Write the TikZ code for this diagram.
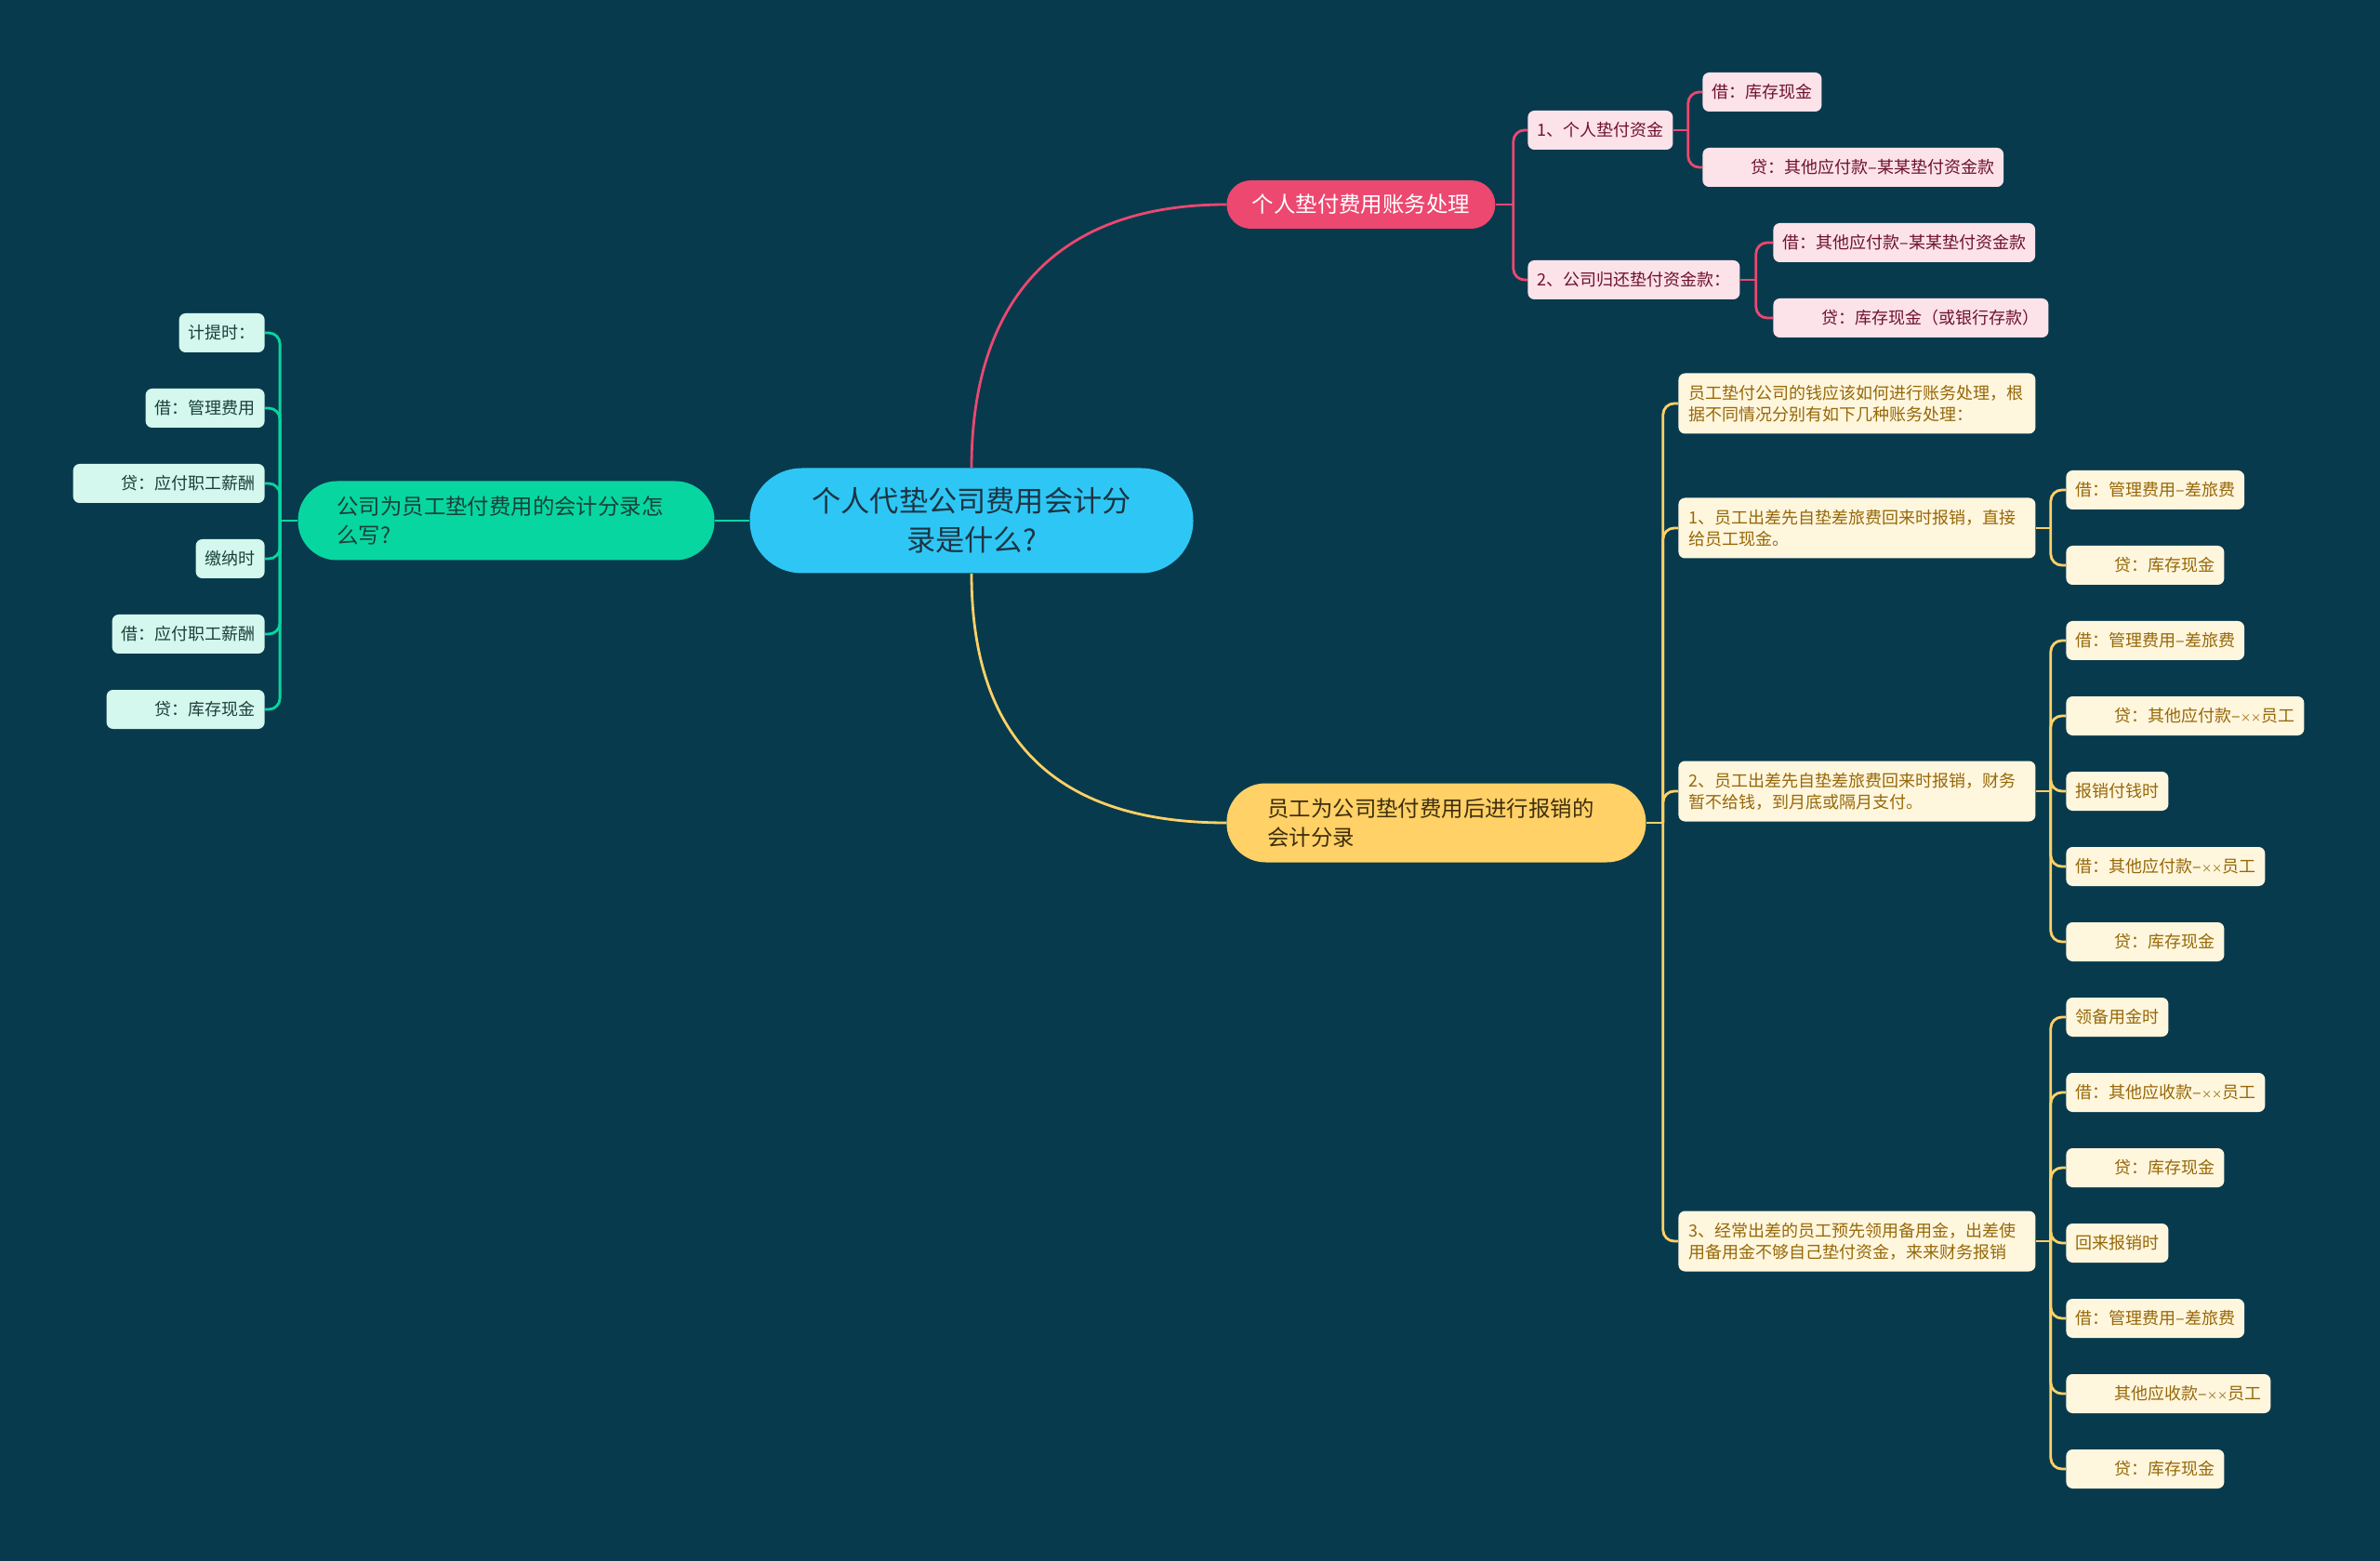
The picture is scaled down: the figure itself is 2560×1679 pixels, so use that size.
\documentclass[tikz,border=0pt]{standalone}
\usepackage{fontspec}
\setmainfont{Noto Sans CJK SC}
\usepackage{tikz}
\usetikzlibrary{calc}
\definecolor{mybg}{RGB}{8,58,77}
\definecolor{mycyan}{RGB}{46,199,245}
\definecolor{myroottext}{RGB}{28,52,66}
\definecolor{mypink}{RGB}{236,72,112}
\definecolor{mypinklight}{RGB}{252,226,233}
\definecolor{mypinktext}{RGB}{110,18,45}
\definecolor{mygreen}{RGB}{8,214,160}
\definecolor{mygreenlight}{RGB}{212,248,237}
\definecolor{mygreentext}{RGB}{25,65,58}
\definecolor{myyellow}{RGB}{255,209,102}
\definecolor{myyellowlight}{RGB}{255,246,222}
\definecolor{myyellowtext}{RGB}{150,104,8}
\definecolor{mybrown}{RGB}{62,46,14}
\newcommand{\credpad}{\hspace*{21pt}}
\newcommand{\onex}{\makebox[0.62em]{\scalebox{0.62}{×}}}
\newcommand{\twox}{\onex\onex}

\begin{document}
\begin{tikzpicture}[x=0.5pt, y=-0.5pt]
    \tikzstyle{leaf}=[rounded corners=3.5pt, minimum height=21pt, inner xsep=5pt, inner ysep=0pt, font=\fontsize{9}{11.5}\selectfont]
    \tikzstyle{pinkleaf}=[leaf, fill=mypinklight, text=mypinktext, anchor=west]
    \tikzstyle{greenleaf}=[leaf, fill=mygreenlight, text=mygreentext, anchor=east]
    \tikzstyle{yellowleaf}=[leaf, fill=myyellowlight, text=myyellowtext, anchor=west]
    \tikzstyle{yellowsub}=[yellowleaf, text width=181pt, inner xsep=5.5pt, minimum height=32.5pt, align=left]
    \tikzstyle{mainbox}=[font=\fontsize{11.7}{15.5}\selectfont]
    \tikzstyle{link}=[line width=1.4pt, rounded corners=6pt]
    \fill[mybg] (0,0) rectangle (2560,1679);
    % centre and the three branches
    \node[fill=mycyan, text=myroottext, rounded corners=28pt, minimum width=238.5pt, minimum height=56.5pt, align=center, font=\fontsize{15.6}{21}\selectfont] (root) at (1045,560) {个人代垫公司费用会计分\\录是什么?};
    \node[mainbox, fill=mypink, text=white, rounded corners=13pt, minimum width=144.5pt, minimum height=26pt, anchor=west] (pay) at (1319,220) {个人垫付费用账务处理};
    \node[mainbox, fill=mygreen, text=mygreentext, rounded corners=21pt, text width=182pt, inner xsep=21pt, minimum height=42.5pt, align=left] (corp) at (544.5,560) {公司为员工垫付费用的会计分录怎\\么写?};
    \node[mainbox, fill=myyellow, text=mybrown, rounded corners=21pt, text width=181.5pt, inner xsep=22pt, minimum height=42.5pt, align=left, anchor=west] (reimb) at (1319,885) {员工为公司垫付费用后进行报销的\\会计分录};
    \draw[link, mypink] (root.north) .. controls (1045,330) and (1130,220) .. (pay.west);
    \draw[link, myyellow] (root.south) .. controls (1045,790) and (1130,885) .. (reimb.west);
    \draw[link, mygreen] (root.west) -- (corp.east);
    % pink branch
    \node[pinkleaf] (p1) at (1643,140) {1、个人垫付资金};
    \node[pinkleaf] (p2) at (1643,301) {2、公司归还垫付资金款：};
    \node[pinkleaf] (p1a) at (1831,99) {借：库存现金};
    \node[pinkleaf] (p1b) at (1831,180) {\credpad 贷：其他应付款–某某垫付资金款};
    \node[pinkleaf] (p2a) at (1907,261) {借：其他应付款–某某垫付资金款};
    \node[pinkleaf] (p2b) at (1907,342) {\credpad 贷：库存现金（或银行存款）};
    \coordinate (payfork) at ($(pay.east)+(19,0)$);
    \coordinate (p1fork) at ($(p1.east)+(16,0)$);
    \coordinate (p2fork) at ($(p2.east)+(17,0)$);
    \draw[link, mypink] (pay.east) -- (payfork);
    \draw[link, mypink] (p1.east) -- (p1fork);
    \draw[link, mypink] (p2.east) -- (p2fork);
    \foreach \c in {p1,p2} \draw[link, mypink] (payfork) |- (\c.west);
    \foreach \c in {p1a,p1b} \draw[link, mypink] (p1fork) |- (\c.west);
    \foreach \c in {p2a,p2b} \draw[link, mypink] (p2fork) |- (\c.west);
    % green branch
    \foreach \lbl [count=\i] in {计提时：, 借：管理费用, \credpad 贷：应付职工薪酬, 缴纳时, 借：应付职工薪酬, \credpad 贷：库存现金}
      \node[greenleaf] (g\i) at (285,277+81*\i) {\lbl};
    \coordinate (corpfork) at ($(corp.west)+(-19,0)$);
    \draw[link, mygreen] (corp.west) -- (corpfork);
    \foreach \i in {1,...,6} \draw[link, mygreen] (corpfork) |- (g\i.east);
    % yellow branch
    \node[yellowsub] (y0) at (1805,434) {员工垫付公司的钱应该如何进行账务处理，根\\据不同情况分别有如下几种账务处理：};
    \node[yellowsub] (y1) at (1805,568) {1、员工出差先自垫差旅费回来时报销，直接\\给员工现金。};
    \node[yellowsub] (y2) at (1805,851) {2、员工出差先自垫差旅费回来时报销，财务\\暂不给钱，到月底或隔月支付。};
    \node[yellowsub] (y3) at (1805,1335) {3、经常出差的员工预先领用备用金，出差使\\用备用金不够自己垫付资金，来来财务报销};
    \foreach \nm/\lbl [count=\i] in {y1a/借：管理费用–差旅费, y1b/\credpad 贷：库存现金,
        y2a/借：管理费用–差旅费, y2b/\credpad 贷：其他应付款–\twox 员工, y2c/报销付钱时, y2d/借：其他应付款–\twox 员工, y2e/\credpad 贷：库存现金,
        y3a/领备用金时, y3b/借：其他应收款–\twox 员工, y3c/\credpad 贷：库存现金, y3d/回来报销时, y3e/借：管理费用–差旅费, y3f/\credpad 其他应收款–\twox 员工, y3g/\credpad 贷：库存现金}
      \node[yellowleaf] (\nm) at (2222,446+81*\i) {\lbl};
    \coordinate (reimbfork) at ($(reimb.east)+(18,0)$);
    \draw[link, myyellow] (reimb.east) -- (reimbfork);
    \foreach \c in {y0,y1,y2,y3} \draw[link, myyellow] (reimbfork) |- (\c.west);
    \foreach \s/\kids in {y1/{y1a,y1b}, y2/{y2a,y2b,y2c,y2d,y2e}, y3/{y3a,y3b,y3c,y3d,y3e,y3f,y3g}} {
      \coordinate (\s fork) at ($(\s.east)+(16,0)$);
      \draw[link, myyellow] (\s.east) -- (\s fork);
      \foreach \c in \kids \draw[link, myyellow] (\s fork) |- (\c.west);
    }
\end{tikzpicture}
\end{document}
